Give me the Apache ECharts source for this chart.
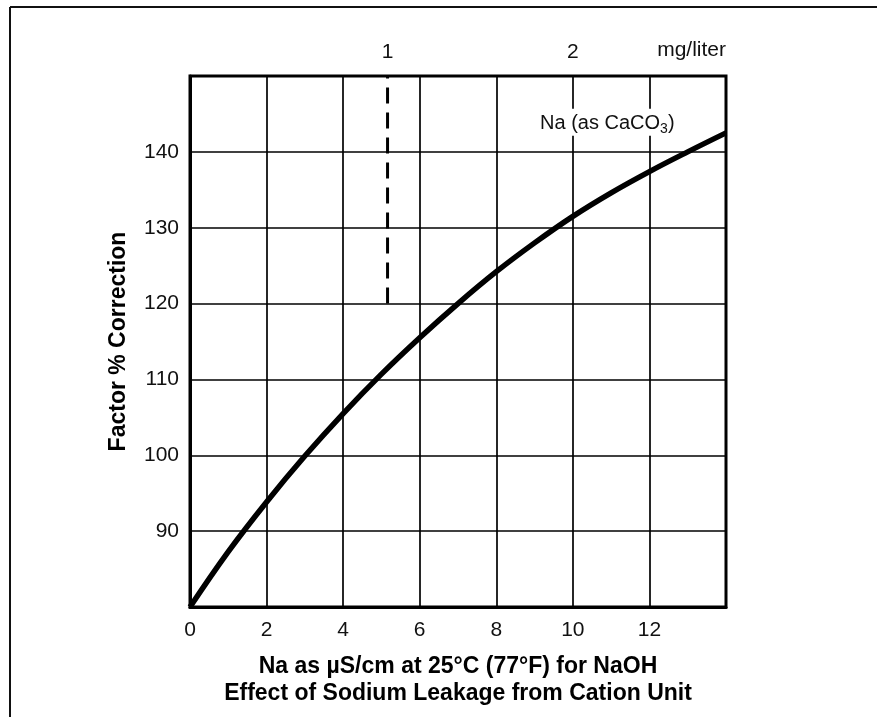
<!DOCTYPE html>
<html>
<head>
<meta charset="utf-8">
<script src="https://cdn.jsdelivr.net/npm/echarts@6/dist/echarts.min.js"></script>
<style>
html,body{margin:0;padding:0;background:#fff;}
#chart{width:877px;height:717px;}
</style>
</head>
<body>
<div id="chart"></div>
<script>
// Data
var curveX = [0, 1, 2, 3, 4, 5, 6, 7, 8, 9, 10, 11, 12, 13, 14];
var curveY = [80, 87.3, 93.85, 99.9, 105.5, 110.7, 115.5, 120.0, 124.2, 128.0, 131.5, 134.6, 137.4, 140.0, 142.5];
var dashX = [5.16, 5.16];
var dashY = [120, 150];
var topTickPositions = [5.16, 10];
var topTickLabels = ['1', '2'];
var noteLabel = ['Na (as CaCO', '3', ')'];
var notePos = [10.9, 143.9];

var xTitle = 'Na as \u00B5S/cm at 25\u00B0C (77\u00B0F) for NaOH';
var chartTitle = 'Effect of Sodium Leakage from Cation Unit';
var yTitle = 'Factor % Correction';

var curveData = curveX.map(function (x, i) { return [x, curveY[i]]; });
var dashData = dashX.map(function (x, i) { return [x, dashY[i]]; });

var chart = echarts.init(document.getElementById('chart'), null, {renderer: 'canvas'});
var labelFont = {fontFamily: 'Liberation Sans', fontSize: 21, color: '#111'};
var titleFont = {fontFamily: 'Liberation Sans', fontSize: 23, fontWeight: 'bold', color: '#000'};

chart.setOption({
  backgroundColor: '#fff',
  animation: false,
  graphic: [
    {type: 'line', shape: {x1: 10, y1: 7, x2: 877, y2: 7}, style: {stroke: '#111', lineWidth: 2}},
    {type: 'line', shape: {x1: 10, y1: 7, x2: 10, y2: 717}, style: {stroke: '#111', lineWidth: 2}}
  ],
  grid: {left: 190, right: 151, top: 76, bottom: 110, show: true, borderColor: '#000', borderWidth: 3, containLabel: false},
  xAxis: [
    {
      type: 'value', min: 0, max: 14, interval: 2, position: 'bottom',
      axisLine: {show: true, lineStyle: {color: '#000', width: 3}},
      axisTick: {show: false},
      splitLine: {show: true, lineStyle: {color: '#000', width: 1.7}},
      axisLabel: Object.assign({margin: 13, showMaxLabel: false}, labelFont),
      name: xTitle + '\n' + chartTitle,
      nameLocation: 'middle', nameGap: 46,
      nameTextStyle: Object.assign({lineHeight: 27, verticalAlign: 'top'}, titleFont)
    },
    {
      type: 'value', min: 0, max: 14, position: 'top',
      axisLine: {show: false}, axisTick: {show: false}, splitLine: {show: false},
      axisLabel: Object.assign({
        margin: 13,
        customValues: topTickPositions,
        formatter: function (v) {
          var i = topTickPositions.indexOf(v);
          return i >= 0 ? topTickLabels[i] : '';
        }
      }, labelFont),
      name: 'mg/liter', nameLocation: 'end', nameGap: 0,
      nameTextStyle: Object.assign({align: 'right', verticalAlign: 'bottom', padding: [0, 0, 15, 0]}, labelFont)
    }
  ],
  yAxis: {
    type: 'value', min: 80, max: 150, interval: 10,
    axisLine: {show: true, lineStyle: {color: '#000', width: 3}},
    axisTick: {show: false},
    splitLine: {show: true, lineStyle: {color: '#000', width: 1.7}},
    axisLabel: Object.assign({margin: 11, showMinLabel: false, showMaxLabel: false}, labelFont),
    name: yTitle, nameLocation: 'middle', nameGap: 60, nameRotate: 90,
    nameTextStyle: titleFont
  },
  series: [
    {
      type: 'line', data: curveData, smooth: 0.4, symbol: 'none',
      lineStyle: {color: '#000', width: 5.5}, z: 5
    },
    {
      type: 'line', data: dashData, symbol: 'none',
      lineStyle: {color: '#000', width: 3, type: [16, 9]}, z: 4
    },
    {
      type: 'scatter', data: [notePos], symbolSize: 0, z: 6,
      itemStyle: {opacity: 1},
      label: {
        show: true, position: 'inside',
        backgroundColor: '#fff', padding: [2, 3],
        formatter: '{a|' + noteLabel[0] + '}{b|' + noteLabel[1] + '}{a|' + noteLabel[2] + '}',
        rich: {
          a: {fontFamily: 'Liberation Sans', fontSize: 20, color: '#111', verticalAlign: 'bottom', lineHeight: 23},
          b: {fontFamily: 'Liberation Sans', fontSize: 14, color: '#111', verticalAlign: 'bottom', lineHeight: 17, padding: [0, 0, -2, 0]}
        }
      }
    }
  ]
});
</script>
</body>
</html>
